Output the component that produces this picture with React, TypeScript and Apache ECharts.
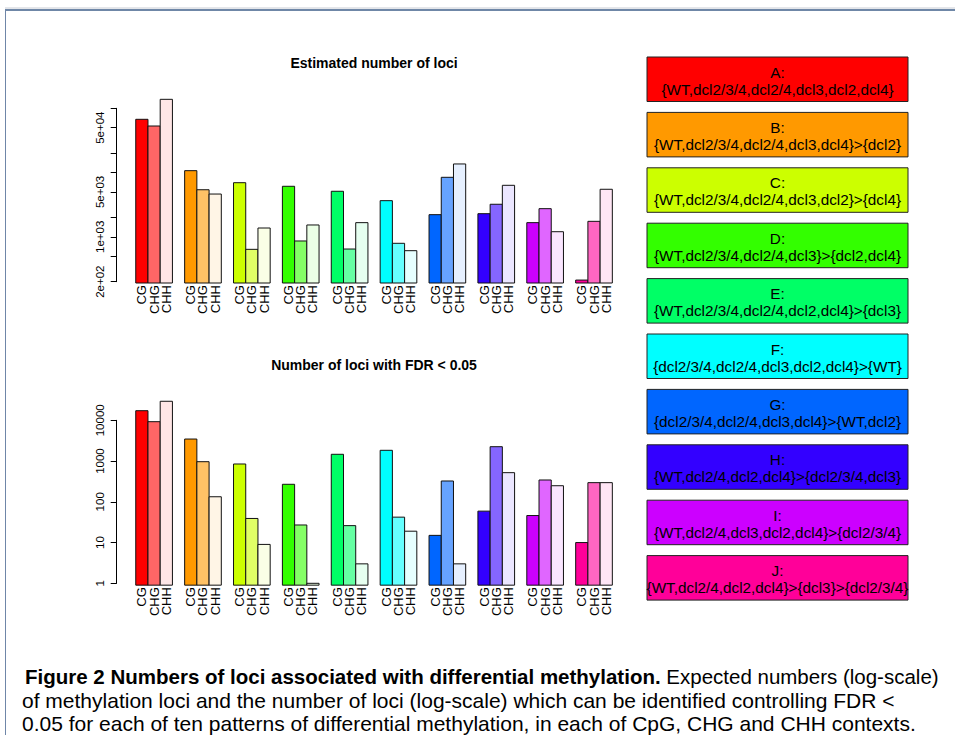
import React, { useEffect, useRef } from 'react';
import * as echarts from 'echarts';

const patterns = ['A', 'B', 'C', 'D', 'E', 'F', 'G', 'H', 'I', 'J'];
const contexts = ['CG', 'CHG', 'CHH'];
const patternSets = [
  '{WT,dcl2/3/4,dcl2/4,dcl3,dcl2,dcl4}',
  '{WT,dcl2/3/4,dcl2/4,dcl3,dcl4}>{dcl2}',
  '{WT,dcl2/3/4,dcl2/4,dcl3,dcl2}>{dcl4}',
  '{WT,dcl2/3/4,dcl2/4,dcl3}>{dcl2,dcl4}',
  '{WT,dcl2/3/4,dcl2/4,dcl2,dcl4}>{dcl3}',
  '{dcl2/3/4,dcl2/4,dcl3,dcl2,dcl4}>{WT}',
  '{dcl2/3/4,dcl2/4,dcl3,dcl4}>{WT,dcl2}',
  '{WT,dcl2/4,dcl2,dcl4}>{dcl2/3/4,dcl3}',
  '{WT,dcl2/4,dcl3,dcl2,dcl4}>{dcl2/3/4}',
  '{WT,dcl2/4,dcl2,dcl4}>{dcl3}>{dcl2/3/4}',
];

// Estimated number of loci
const estimatedCG = [67400, 10700, 6950, 6110, 5110, 3650, 2210, 2290, 1660, 212];
const estimatedCHG = [53000, 5400, 638, 861, 645, 792, 8430, 3210, 2740, 1740];
const estimatedCHH = [138000, 4630, 1370, 1527, 1660, 608, 13600, 6330, 1200, 5490];

// Number of loci with FDR < 0.05
const fdrCG = [17200, 3470, 847, 269, 1465, 1835, 15, 59, 46, 10];
const fdrCHG = [9250, 964, 39, 27, 26, 42, 324, 2250, 343, 295];
const fdrCHH = [29300, 133, 9, 1, 3, 19, 3, 519, 248, 295];

const estimatedTicks = [200, 500, 1000, 2000, 5000, 10000, 20000, 50000, 100000];
const estimatedTickLabels = [200, 1000, 5000, 50000];
const fdrTicks = [1, 10, 100, 1000, 10000];
const fdrTickLabels = [1, 10, 100, 1000, 10000];

const patternColors = ['#FF0000', '#FF9900', '#CCFF00', '#33FF00', '#00FF66', '#00FFFF', '#0066FF', '#3300FF', '#CC00FF', '#FF0099'];
const contextAlpha = [1, 0.6, 0.1];

const captionBold = 'Figure 2 Numbers of loci associated with differential methylation.';
const captionLines = [
  ' Expected numbers (log-scale)',
  'of methylation loci and the number of loci (log-scale) which can be identified controlling FDR <',
  '0.05 for each of ten patterns of differential methylation, in each of CpG, CHG and CHH contexts.',
];

const FONT = '"Liberation Sans", Arial, Helvetica, sans-serif';

function tint(hex: string, a: number): string {
  const n = parseInt(hex.slice(1), 16);
  const ch = [(n >> 16) & 255, (n >> 8) & 255, n & 255].map((c) => Math.round(c * a + 255 * (1 - a)));
  return '#' + ch.map((c) => c.toString(16).padStart(2, '0')).join('');
}

function buildData(cg: number[], chg: number[], chh: number[]) {
  const cols = [cg, chg, chh];
  const base = 0.9 * Math.min(...cg, ...chg, ...chh);
  const out: number[][] = [];
  patterns.forEach((_, g) => {
    cols.forEach((col, k) => {
      out.push([1 + 4 * g + k, col[g], base, g, k]);
    });
  });
  return out;
}

const renderBar = (_params: any, api: any) => {
  const x = api.value(0);
  const v = api.value(1);
  const base = api.value(2);
  const g = api.value(3);
  const k = api.value(4);
  const p0 = api.coord([x, base]);
  const p1 = api.coord([x + 1, v]);
  return {
    type: 'group',
    children: [
      {
        type: 'rect',
        shape: { x: p0[0], y: p1[1], width: p1[0] - p0[0], height: p0[1] - p1[1] },
        style: { fill: tint(patternColors[g], contextAlpha[k]), stroke: '#111', lineWidth: 1 },
      },
      {
        type: 'text',
        x: (p0[0] + p1[0]) / 2,
        y: p0[1] + 2,
        rotation: Math.PI / 2,
        style: {
          text: contexts[k],
          align: 'right',
          verticalAlign: 'middle',
          font: `13px ${FONT}`,
          fill: '#000',
        },
      },
    ],
  };
};

const expFormat = (v: number) => {
  const s = Math.pow(10, v).toExponential(0);
  return s.replace(/e([+-])(\d)$/, (_m, sign, d) => 'e' + sign + '0' + d);
};
const intFormat = (v: number) => String(Math.round(Math.pow(10, v)));

function tickAxis(gridIndex: number, lo: number, hi: number, ticks: number[], labels: number[], fmt: (v: number) => string) {
  return {
    type: 'value',
    gridIndex,
    position: 'left',
    min: Math.log10(lo),
    max: Math.log10(hi),
    axisLine: { show: true, onZero: false, lineStyle: { color: '#000', width: 1 } },
    axisTick: { show: true, length: 6, customValues: ticks.map((t) => Math.log10(t)), lineStyle: { color: '#000', width: 1 } },
    axisLabel: {
      customValues: labels.map((t) => Math.log10(t)),
      rotate: 90,
      margin: 11,
      formatter: fmt,
      fontSize: 11.5,
      fontFamily: FONT,
      color: '#000',
    },
    splitLine: { show: false },
  };
}

function logAxis(gridIndex: number, lo: number, hi: number) {
  return { type: 'log', gridIndex, min: lo, max: hi, show: false, splitLine: { show: false } };
}

const GRID_LEFT = 116.7;
const GRID_WIDTH = 514.7;

function buildOption() {
  const graphics: any[] = [];
  graphics.push({
    type: 'text', x: 374, y: 63,
    style: { text: 'Estimated number of loci', font: `bold 14px ${FONT}`, fill: '#000', align: 'center', verticalAlign: 'middle' },
  });
  graphics.push({
    type: 'text', x: 374, y: 365,
    style: { text: 'Number of loci with FDR < 0.05', font: `bold 14px ${FONT}`, fill: '#000', align: 'center', verticalAlign: 'middle' },
  });
  patterns.forEach((p, i) => {
    const top = 57 + i * 55.4;
    graphics.push({
      type: 'rect',
      shape: { x: 647, y: top, width: 261, height: 44.5 },
      style: { fill: patternColors[i], stroke: '#222', lineWidth: 1 },
    });
    graphics.push({
      type: 'text', x: 777.5, y: top + 15,
      style: { text: p + ':', font: `15.3px ${FONT}`, fill: '#000', align: 'center', verticalAlign: 'middle' },
    });
    graphics.push({
      type: 'text', x: 777.5, y: top + 32,
      style: { text: patternSets[i], font: `15.3px ${FONT}`, fill: '#000', align: 'center', verticalAlign: 'middle' },
    });
  });
  // frame
  graphics.push({ type: 'line', shape: { x1: 5, y1: 8, x2: 955, y2: 8 }, style: { stroke: '#c8ccd4', lineWidth: 1 } });
  graphics.push({ type: 'line', shape: { x1: 5, y1: 10, x2: 955, y2: 10 }, style: { stroke: '#3f5f8a', lineWidth: 1.5 } });
  graphics.push({ type: 'line', shape: { x1: 5.5, y1: 10, x2: 5.5, y2: 735 }, style: { stroke: '#6f86a8', lineWidth: 1 } });
  // caption
  graphics.push({
    type: 'text', x: 25, y: 676,
    style: {
      text: '{b|' + captionBold + '}' + captionLines[0],
      font: `20.5px ${FONT}`,
      fill: '#000',
      verticalAlign: 'middle',
      rich: { b: { fontWeight: 'bold', fontSize: 20.5, fontFamily: FONT, fill: '#000' } },
    },
  });
  graphics.push({
    type: 'text', x: 22, y: 700,
    style: { text: captionLines[1], font: `21px ${FONT}`, fill: '#000', verticalAlign: 'middle' },
  });
  graphics.push({
    type: 'text', x: 22, y: 723,
    style: { text: captionLines[2], font: `21px ${FONT}`, fill: '#000', verticalAlign: 'middle' },
  });

  return {
    animation: false,
    backgroundColor: '#fff',
    grid: [
      { left: GRID_LEFT, top: 108.3, width: GRID_WIDTH, height: 173.4 },
      { left: GRID_LEFT, top: 420.3, width: GRID_WIDTH, height: 163 },
    ],
    xAxis: [
      { type: 'value', gridIndex: 0, min: -0.56, max: 41.56, show: false },
      { type: 'value', gridIndex: 1, min: -0.56, max: 41.56, show: false },
    ],
    yAxis: [
      logAxis(0, 200, 100000),
      tickAxis(0, 200, 100000, estimatedTicks, estimatedTickLabels, expFormat),
      logAxis(1, 1, 10000),
      tickAxis(1, 1, 10000, fdrTicks, fdrTickLabels, intFormat),
    ],
    series: [
      {
        type: 'custom', xAxisIndex: 0, yAxisIndex: 0, clip: false, silent: true,
        renderItem: renderBar, encode: { x: 0, y: 1 },
        data: buildData(estimatedCG, estimatedCHG, estimatedCHH),
      },
      {
        type: 'custom', xAxisIndex: 1, yAxisIndex: 2, clip: false, silent: true,
        renderItem: renderBar, encode: { x: 0, y: 1 },
        data: buildData(fdrCG, fdrCHG, fdrCHH),
      },
    ],
    graphic: { elements: graphics },
  };
}

export default function App() {
  const ref = useRef<HTMLDivElement>(null);
  useEffect(() => {
    document.body.style.margin = '0';
    const chart = echarts.init(ref.current as HTMLDivElement, null, { renderer: 'svg' });
    chart.setOption(buildOption() as any);
    return () => chart.dispose();
  }, []);
  return <div ref={ref} style={{ position: 'absolute', left: 0, top: 0, width: 955, height: 745, background: '#fff' }} />;
}
